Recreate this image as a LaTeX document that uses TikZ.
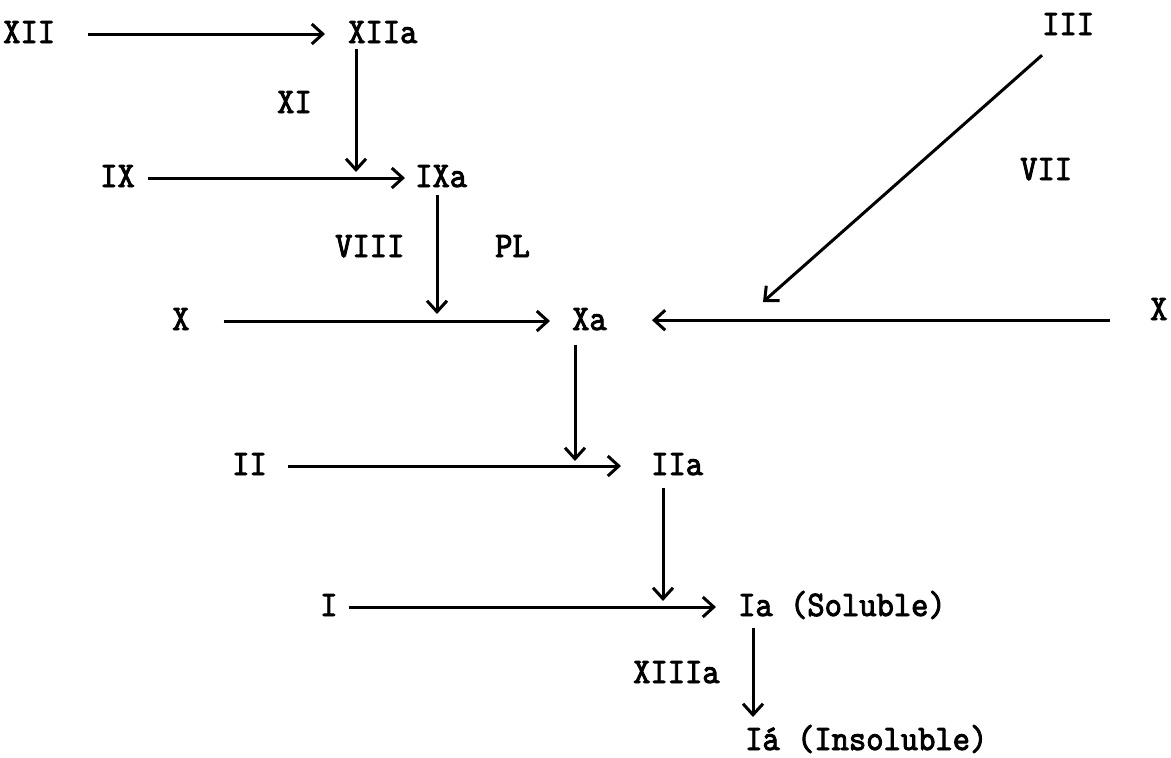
\documentclass[tikz,border=0pt]{standalone}
\usepackage{fontspec}
\newfontfamily\tw[FakeStretch=0.915,FakeBold=2.5]{lmmono10-regular.otf}
\usetikzlibrary{arrows.meta,calc}
\begin{document}
\begin{tikzpicture}[x=1pt,y=-1pt,
  lbl/.style={anchor=west,inner sep=0pt,text height=18pt,text depth=0pt,font=\tw\fontsize{36}{36}\selectfont},
  arr/.style={line width=3pt,-{Straight Barb[length=11pt,width=20pt,line width=3pt]}}]
\useasboundingbox[fill=white] (0,0) rectangle (1171,758);
% row 1
\node[lbl] (XII)  at (3,34)   {XII};
\node[lbl] (XIIa) at (348,34) {XIIa};
\node[lbl] (XI)   at (277,104) {XI};
% row 2
\node[lbl] (IX)   at (100,178) {IX};
\node[lbl] (IXa)  at (415,178) {IXa};
\node[lbl] (VIII) at (335,248) {VIII};
\node[lbl] (PL)   at (495,248) {PL};
% row 3
\node[lbl] (X)    at (172,321) {X};
\node[lbl] (Xa)   at (572,321) {Xa};
\node[lbl] (Xr)   at (1150,311) {X};
\node[lbl] (III)  at (1042,26) {III};
\node[lbl] (VII)  at (1020,171) {VII};
% row 4
\node[lbl] (II)   at (232,466) {II};
\node[lbl] (IIa)  at (651,466) {IIa};
% row 5
\node[lbl] (I)    at (320,607) {I};
\node[lbl] (Ia)   at (738,607) {Ia (Soluble)};
\node[lbl] (XIIIa) at (633,674) {XIIIa};
\node[lbl] (Ib)   at (745,741) {Iá (Insoluble)};
% free ends
\coordinate (c1) at (356,172);
\coordinate (c2) at (437,314);
\coordinate (c3) at (575,461);
\coordinate (c4) at (663,601);
\coordinate (c5) at (753,717);
\coordinate (c6) at (763,302);
% horizontal arrows
\draw[arr,shorten <=33pt,shorten >=23pt] (XII.east) -- (XIIa.west);
\draw[arr,shorten <=13pt,shorten >=10pt] (IX.east) -- (IXa.west);
\draw[arr,shorten <=34pt,shorten >=22pt] (X.east) -- (Xa.west);
\draw[arr,shorten <=40pt,shorten >=45pt] (Xr.south west) -- (Xr.south west -| Xa.east);
\draw[arr,shorten <=21pt,shorten >=30pt] (II.east) -- (IIa.west);
\draw[arr,shorten <=11pt,shorten >=22pt] (I.east) -- (Ia.west);
% vertical arrows
\draw[arr] ($(XIIa.south west)+(8,6)$) -- (c1);
\draw[arr] ($(IXa.south west)+(22,8)$) -- (c2);
\draw[arr] ($(Xa.south west)+(3,15)$) -- (c3);
\draw[arr] ($(IIa.south west)+(12,13)$) -- (c4);
\draw[arr] ($(Ia.south west)+(15,12)$) -- (c5);
% diagonal
\draw[arr] ($(III.south west)+(0,20)$) -- (c6);
\end{tikzpicture}
\end{document}
